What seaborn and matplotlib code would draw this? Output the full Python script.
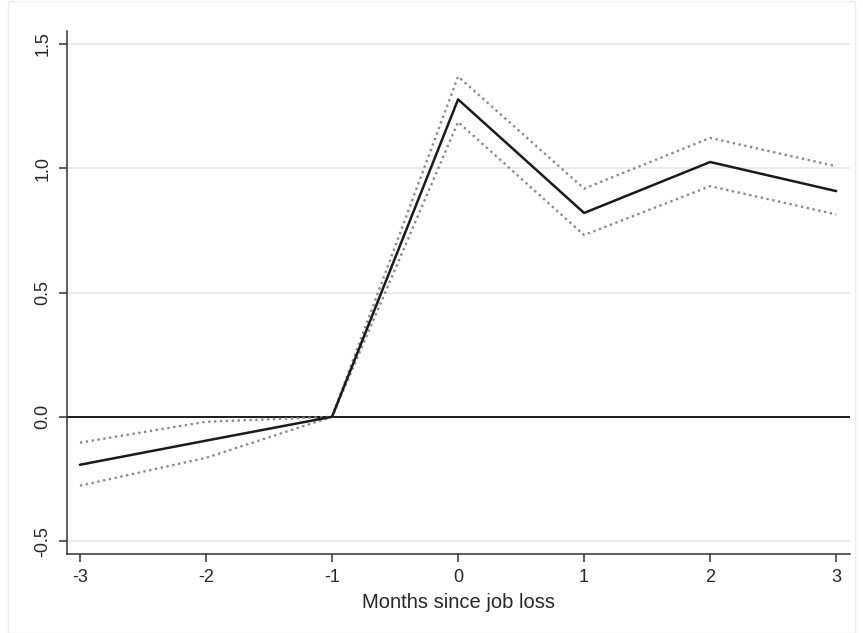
import matplotlib
matplotlib.use("Agg")
import matplotlib.pyplot as plt
import seaborn as sns
import pandas as pd

months = [-3, -2, -1, 0, 1, 2, 3]
estimate = [-0.193, -0.096, 0.0, 1.277, 0.820, 1.025, 0.908]
upper_ci = [-0.104, -0.020, 0.0, 1.369, 0.918, 1.122, 1.008]
lower_ci = [-0.277, -0.165, 0.0, 1.186, 0.731, 0.928, 0.814]
y_ticks = [-0.5, 0.0, 0.5, 1.0, 1.5]
y_tick_labels = ["-0.5", "0.0", "0.5", "1.0", "1.5"]
x_label = "Months since job loss"

df = pd.DataFrame({"month": months, "est": estimate, "hi": upper_ci, "lo": lower_ci})

sns.set_style("white")
plt.rcParams["font.family"] = ["Liberation Sans", "DejaVu Sans"]

fig = plt.figure(figsize=(8.63, 6.33), dpi=100)
ax = fig.add_axes([0.0776, 0.1248, 0.9074, 0.8262])

for y in [-0.5, 0.5, 1.0, 1.5]:
    ax.axhline(y, color="#e8e8e8", lw=1.3, zorder=0)
ax.axhline(0, color="#1a1a1a", lw=1.4, zorder=1)

sns.lineplot(data=df, x="month", y="hi", ax=ax, color="#8a8a8a", lw=1.7,
             linestyle=(0, (1, 1.5)), zorder=2)
sns.lineplot(data=df, x="month", y="lo", ax=ax, color="#8a8a8a", lw=1.7,
             linestyle=(0, (1, 1.5)), zorder=2)
sns.lineplot(data=df, x="month", y="est", ax=ax, color="#1a1a1a", lw=1.8, zorder=3)

ax.set_xlim(-3.103, 3.11)
ax.set_ylim(-0.552, 1.552)
ax.set_xticks(months)
ax.set_xticklabels([str(m) for m in months], fontsize=13)
ax.set_yticks(y_ticks)
ax.set_yticklabels(y_tick_labels, fontsize=13, rotation=90, va="center")
ax.set_xlabel(x_label, fontsize=14.5, labelpad=5)
ax.set_ylabel("")

for s in ["top", "right"]:
    ax.spines[s].set_visible(False)
for s in ["left", "bottom"]:
    ax.spines[s].set_color("#333333")
    ax.spines[s].set_linewidth(1.1)
ax.tick_params(axis="both", direction="out", length=6, width=1.1, color="#333333",
               left=True, bottom=True, pad=5)

fig.patches.append(matplotlib.patches.Rectangle((0.009, 0.0), 0.982, 0.999, transform=fig.transFigure,
                                                 fill=False, edgecolor="#eeeeee", lw=1.0))
fig.savefig("out.png", dpi=100)
